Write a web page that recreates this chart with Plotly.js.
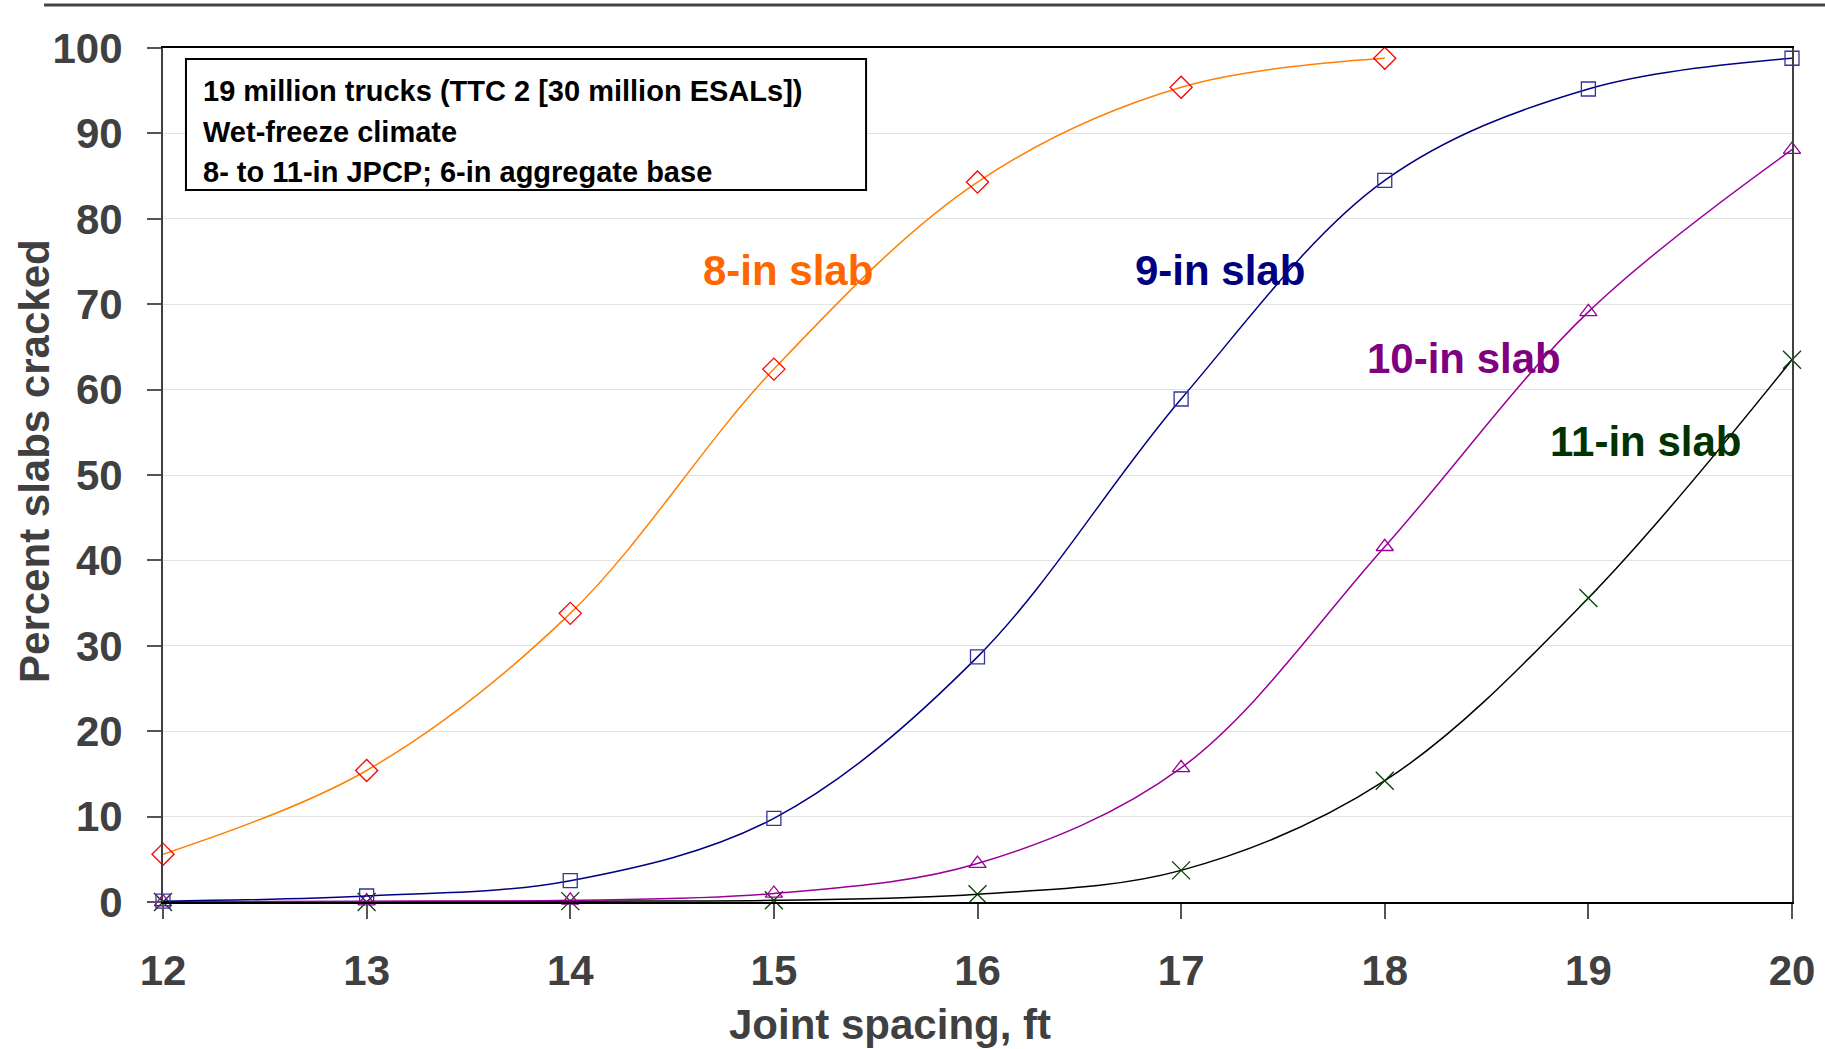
<!DOCTYPE html>
<html>
<head>
<meta charset="utf-8">
<script src="https://cdn.plot.ly/plotly-3.0.1.min.js"></script>
<style>
  html, body { margin: 0; padding: 0; background: #ffffff; }
  #chart { width: 1825px; height: 1049px; }
</style>
</head>
<body>
<div id="chart"></div>
<script>
// ---- Data ----
const jointSpacing = [12, 13, 14, 15, 16, 17, 18, 19, 20];
const xTickLabels = ["12", "13", "14", "15", "16", "17", "18", "19", "20"];
const yTickValues = [0, 10, 20, 30, 40, 50, 60, 70, 80, 90, 100];

const spacing8 = [12, 13, 14, 15, 16, 17, 18];
const slab8  = [5.6, 15.4, 33.8, 62.4, 84.3, 95.4, 98.8];
const slab9  = [0.1, 0.7, 2.5, 9.8, 28.7, 58.9, 84.5, 95.2, 98.8];
const slab10 = [0.0, 0.1, 0.2, 1.0, 4.5, 15.7, 41.6, 69.1, 88.1];
const slab11 = [0.0, 0.0, 0.1, 0.2, 0.9, 3.7, 14.2, 35.6, 63.5];

const seriesNames = ["8-in slab", "9-in slab", "10-in slab", "11-in slab"];
const labelX = [15.07, 17.19, 18.39, 19.28];
const labelY = [74.0, 74.0, 63.7, 53.9];

const xTitle = "Joint spacing, ft";
const yTitle = "Percent slabs cracked";

const boxLines = [
  "19 million trucks (TTC 2 [30 million ESALs])",
  "Wet-freeze climate",
  "8- to 11-in JPCP; 6-in aggregate base"
];

const FONT = "Liberation Sans, Arial, Helvetica, sans-serif";
const GRAY = "#404040";

function trace(x, y, name, lineColor, symbol, markerColor, msize) {
  return {
    type: "scatter", mode: "lines+markers", x: x, y: y, name: name,
    cliponaxis: false,
    line: { color: lineColor, width: 1.5, shape: "spline", smoothing: 1 },
    marker: { symbol: symbol, size: msize, color: markerColor,
              line: { color: markerColor, width: 1.3 } }
  };
}

const data = [
  trace(jointSpacing, slab11, seriesNames[3], "#000000", "x-thin-open", "#004000", 18),
  trace(jointSpacing, slab10, seriesNames[2], "#990099", "triangle-up-open", "#990099", 15),
  trace(jointSpacing, slab9, seriesNames[1], "#000080", "square-open", "#333399", 14),
  trace(spacing8, slab8, seriesNames[0], "#FF8000", "diamond-open", "#FF0000", 17)
];

const labelColors = ["#FF6600", "#000080", "#800080", "#003300"];

const annotations = seriesNames.map((n, i) => ({
  x: labelX[i], y: labelY[i], xref: "x", yref: "y", text: n, showarrow: false,
  xanchor: "center", yanchor: "middle",
  font: { family: FONT, size: 42, color: labelColors[i], weight: "bold" }
}));

const lineYs = [0.9496, 0.9022, 0.8548];
boxLines.forEach((t, i) => annotations.push({
  x: 0.0233, y: lineYs[i], xref: "paper", yref: "paper", text: t, showarrow: false,
  xanchor: "left", yanchor: "middle",
  font: { family: FONT, size: 29, color: "#000000", weight: "bold" }
}));

// axis titles (placed as in the reference, not centred on the axis)
annotations.push({
  x: 0.4463, y: -0.1429, xref: "paper", yref: "paper", text: xTitle, showarrow: false,
  xanchor: "center", yanchor: "middle",
  font: { family: FONT, size: 42, color: GRAY, weight: "bold" }
});
annotations.push({
  x: -0.0786, y: 0.5164, xref: "paper", yref: "paper", text: yTitle, showarrow: false,
  xanchor: "center", yanchor: "middle", textangle: -90,
  font: { family: FONT, size: 42, color: GRAY, weight: "bold" }
});

const layout = {
  width: 1825, height: 1049, autosize: false,
  margin: { l: 163, r: 33, t: 48, b: 147, pad: 0 },
  paper_bgcolor: "#ffffff", plot_bgcolor: "#ffffff",
  showlegend: false,
  font: { family: FONT, color: GRAY },
  xaxis: {
    range: [12, 20], tickmode: "array", tickvals: jointSpacing, ticktext: xTickLabels,
    ticks: "outside", ticklen: 15, tickwidth: 2, tickcolor: "#555555",
    showgrid: false, zeroline: false,
    showline: true, linecolor: "#000000", linewidth: 2, mirror: true,
    tickfont: { family: FONT, size: 42, color: GRAY, weight: "bold" },
    ticklabelstandoff: 16
  },
  yaxis: {
    range: [0, 100], tickmode: "array", tickvals: yTickValues,
    ticks: "outside", ticklen: 14, tickwidth: 2, tickcolor: "#555555",
    showgrid: true, gridcolor: "#e2e2e2", gridwidth: 1, zeroline: false,
    showline: true, linecolor: "#404040", linewidth: 2, mirror: true,
    tickfont: { family: FONT, size: 42, color: GRAY, weight: "bold" },
    ticklabelstandoff: 16
  },
  shapes: [
    { type: "line", xref: "paper", yref: "paper", x0: -0.073, x1: 1.03, y0: 1.0503, y1: 1.0503,
      line: { color: "#444444", width: 3 } },
    { type: "rect", xref: "paper", yref: "paper", x0: 0.0141, x1: 0.4316, y0: 0.8337, y1: 0.987,
      line: { color: "#000000", width: 2 }, fillcolor: "#ffffff", layer: "above" }
  ],
  annotations: annotations
};

Plotly.newPlot("chart", data, layout, { displayModeBar: false, staticPlot: true });
</script>
</body>
</html>
